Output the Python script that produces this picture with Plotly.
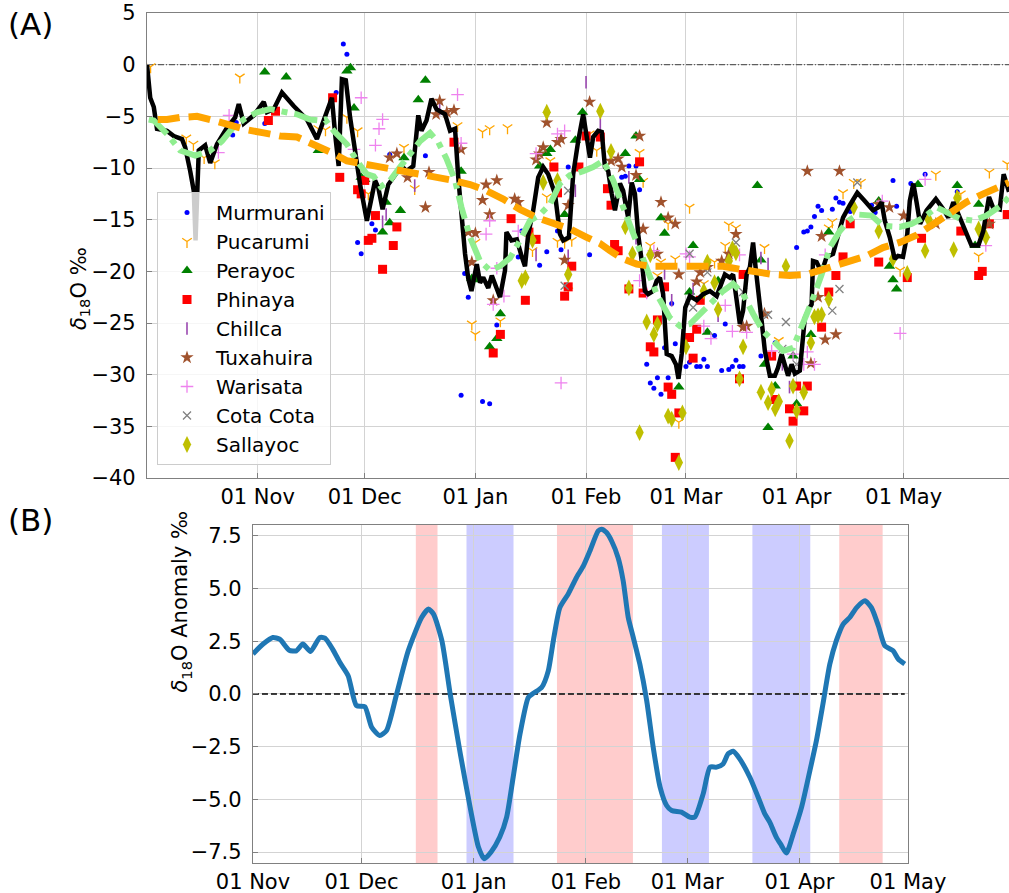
import pandas as pd
import plotly.graph_objects as go

# ---------------------------------------------------------------------------
# Panel A: daily d18O at the stations, smoothed composite and seasonal cycle
# days are counted from the start of the season (01 Oct 2018)
# ---------------------------------------------------------------------------
SEASON_START = pd.Timestamp("2018-10-01")
SEASON_END_DAY = 241.5

composite_day = [0, 0.9, 1.9, 2.8, 5.6, 7.5, 9.8, 10.7, 12.1, 13.1, 13.6, 14.2, 14.5, 16.3, 17.7,
                 19.6, 22.4, 24.7, 25.7, 27.1, 29.9, 32.7, 33.6, 35.5, 37.8, 41.1, 44.8, 47.6,
                 49.5, 51.8, 52.7, 53.7, 54.6, 55.7, 56.9, 58.4, 59.7, 61.6, 62.5, 63.9, 64.8,
                 66, 67.6, 69.5, 71.3, 72.7, 74.6, 76, 76.9, 78.3, 79.7, 81.1, 83.5, 84.9, 86.3,
                 87.2, 88.1, 89.1, 90, 90.9, 92.4, 93.3, 94.2, 95.6, 96.6, 98.9, 100.3, 100.7,
                 102.1, 103.6, 105, 105.9, 106.8, 108.2, 109.6, 111, 112.4, 114.3, 115.7, 116.6,
                 118.2, 119.4, 120.8, 122.2, 124.1, 125, 126.4, 127.4, 128.3, 129.2, 130.2,
                 131.1, 132.5, 133.4, 134.8, 135.8, 136.7, 137.6, 138.6, 139.5, 140.4, 141.8,
                 142.8, 143.7, 144.6, 145.6, 147, 148.2, 148.9, 149.8, 150.8, 152.1, 154, 155.8,
                 157.7, 159.6, 161, 161.9, 163.3, 164.2, 165.2, 166.1, 167, 168, 168.9, 169.8,
                 170.5, 171.2, 172.2, 173.1, 174.5, 175.9, 176.8, 177.8, 178.7, 179.6, 180.6,
                 181.5, 182.9, 184.3, 185.5, 186.2, 186.6, 187.6, 189, 190.4, 192.2, 193.6, 195,
                 196.9, 199, 201.1, 203.4, 204.9, 205.8, 206.7, 208.1, 209.5, 210.4, 211.8, 213,
                 213.7, 214.7, 215.6, 216.6, 218.4, 221, 223.1, 224.5, 225.9, 227.7, 229.6, 231,
                 232.9, 234.3, 235.9, 237, 238.9, 240, 241.5]
composite_d18o = [0, -3.2, -4.1, -6.2, -6.4, -6.9, -7.2, -8.0, -10.3, -12.2, -17.0, -12.5, -8.3,
                  -7.8, -9.5, -7.7, -6.1, -5.1, -3.8, -5.7, -4.9, -3.6, -4.6, -4.3, -2.7, -4.0,
                  -5.3, -7.2, -5.4, -3.2, -6.7, -9.8, -1.4, -1.5, -5.1, -9.0, -11.6, -15.1,
                  -13.5, -11.2, -11.9, -14.0, -11.6, -10.7, -9.8, -10.3, -9.8, -4.9, -6.4, -5.4,
                  -3.3, -4.3, -4.8, -6.4, -6.2, -10.9, -14.8, -18.3, -20.7, -21.9, -19.3, -21.1,
                  -20.6, -21.6, -20.4, -22.5, -19.9, -16.2, -17.0, -16.9, -18.6, -19.5, -16.4,
                  -14.1, -10.9, -9.9, -10.6, -12.5, -16.4, -17.0, -16.7, -10.6, -7.4, -4.8,
                  -9.0, -7.0, -6.4, -6.5, -9.9, -10.3, -12.5, -14.1, -11.5, -12.2, -14.8, -11.4,
                  -12.5, -16.4, -19.0, -21.9, -22.2, -21.9, -20.9, -20.6, -22.2, -28.0, -28.2,
                  -29.0, -30.4, -28.0, -23.5, -22.4, -22.8, -22.2, -21.9, -22.4, -21.1, -20.3,
                  -20.6, -20.3, -22.8, -25.1, -23.8, -20.3, -19.6, -17.2, -19.6, -22.2, -24.8,
                  -27.7, -30.1, -30.1, -29.3, -28.0, -29.0, -30.1, -29.0, -29.9, -29.6, -24.5,
                  -23.6, -23.2, -19.0, -19.1, -20.1, -18.6, -18.3, -16.7, -14.8, -13.6, -12.4,
                  -13.2, -14.1, -13.8, -13.3, -15.1, -16.7, -18.8, -18.5, -18.6, -16.4, -13.2,
                  -11.5, -13.3, -15.4, -14.1, -13.0, -14.0, -14.8, -13.3, -14.8, -16.4, -17.5,
                  -17.5, -16.1, -12.8, -13.8, -14.0, -10.6, -12.3]

smooth_day = [0.5, 1.9, 5.6, 9.3, 13.5, 17.7, 21, 23.8, 27.1, 30.8, 34.5, 38.3, 42, 45.7, 48.5,
              49.9, 52.3, 56, 58.8, 61.6, 63.5, 65.5, 68.1, 70.9, 73.7, 76.5, 79.3, 81.6, 83.9,
              86.3, 88.1, 90.5, 93.3, 96.1, 98.9, 101.7, 104.5, 107.3, 110.1, 112.9, 115.7,
              118.5, 122.2, 125, 127.8, 130.6, 133.4, 136.2, 140, 142.8, 146.5, 149.3, 152.1,
              154.9, 158.6, 161.4, 164.2, 167, 169.8, 172.6, 175.4, 178.2, 181, 183.8, 186.4,
              189, 191.3, 194.1, 196.5, 199.2, 203, 206.2, 210.9, 214.2, 217.5, 221.2, 224,
              227.7, 231.5, 235.2, 239.4, 241.5]
smooth_d18o = [-5.3, -5.4, -6.7, -8.3, -8.8, -8.3, -7.4, -6.2, -5.3, -4.6, -4.3, -4.5, -4.8,
               -5.3, -5.4, -5.3, -6.4, -7.7, -9.3, -10.6, -10.8, -11.8, -11.2, -9.9, -8.6,
               -7.4, -6.6, -7.5, -9.1, -11.2, -13.8, -16.7, -19.0, -19.9, -19.5, -18.7, -17.0,
               -15.1, -14.5, -13.5, -11.5, -10.7, -10.3, -9.9, -9.3, -11.2, -13.8, -16.4,
               -19.6, -22.2, -24.5, -25.3, -25.1, -24.1, -22.8, -21.9, -21.2, -22.2, -24.1,
               -25.8, -26.7, -27.7, -27.4, -25.1, -22.8, -20.3, -17.7, -16.1, -15.1, -14.5,
               -14.6, -15.6, -15.7, -15.4, -14.8, -13.8, -14.3, -14.9, -15.1, -14.6, -13.6,
               -12.8]

seasonal_day = [3, 5.6, 9.3, 14, 18.7, 23.3, 28, 32.7, 37.3, 42, 44.8, 48.5, 52.3, 56, 60.7,
                64.4, 67.1, 71.8, 76.5, 81.1, 85.8, 90.5, 95.2, 99.8, 104.5, 109.2, 113.8,
                118.5, 123.2, 126.9, 129.7, 133.4, 137.2, 140.9, 144.6, 148.4, 152.1, 156.8,
                161.4, 166.1, 170.8, 175.4, 180.1, 184.8, 188.5, 192.2, 196.9, 201.6, 206.2,
                210.9, 215.6, 220.3, 225, 229.6, 234.3, 239, 241.5]
seasonal_d18o = [-5.3, -5.3, -5.1, -5.0, -5.4, -5.9, -6.3, -6.6, -6.9, -7.0, -7.4, -8.0, -8.6,
                 -9.3, -9.6, -9.8, -9.9, -10.2, -10.5, -10.9, -11.2, -11.6, -12.2, -13.0,
                 -14.0, -14.8, -15.3, -15.9, -16.7, -17.3, -18.0, -18.8, -19.3, -19.5, -19.5,
                 -19.5, -19.4, -19.4, -19.5, -19.8, -20.1, -20.3, -20.4, -20.3, -19.9, -19.5,
                 -19.0, -18.5, -17.7, -17.2, -16.5, -15.4, -14.3, -13.3, -12.5, -11.7, -11.4]

# station samples (day of season, d18O permil)
murmurani_day = [24, 25, 33, 35, 53, 55, 56, 63, 64, 59, 60, 68, 70, 78, 88, 94, 96, 89, 90, 98,
                 105, 107, 110, 112, 104, 115, 116, 118, 124, 133, 134, 135, 137, 138, 140, 141,
                 142, 143, 144, 146, 145, 147, 148, 151, 152, 154, 155, 156, 157, 159, 161, 163,
                 164, 166, 167, 165, 162, 172, 176, 182, 184, 185, 186, 187, 188, 189, 192, 193,
                 194, 195, 197, 198, 203, 204, 209, 210, 214, 218, 227]
murmurani_val = [-6.8, -5.6, -5.7, -4.4, -2.7, 2.0, 1.0, -15.4, -16.0, -17.2, -18.3, -8.7, -8.6,
                 -8.8, -32.0, -32.6, -32.8, -20.2, -22.5, -25.2, -16.1, -15.4, -19.4, -18.1,
                 -18.6, -16.1, -17.9, -9.9, -18.4, -10.9, -10.8, -9.8, -9.8, -12.1, -29.0,
                 -30.8, -31.3, -30.3, -31.9, -30.3, -27.4, -23.1, -27.0, -29.2, -28.8, -29.2,
                 -29.2, -28.5, -29.2, -26.2, -29.6, -29.5, -29.2, -29.2, -29.2, -28.6, -25.1,
                 -28.2, -26.9, -17.7, -16.2, -16.1, -15.7, -14.7, -13.7, -14.1, -14.0, -12.9,
                 -13.3, -13.4, -14.2, -13.8, -13.6, -14.3, -11.2, -13.7, -11.5, -10.6, -12.3]

pucarumi_day = [1, 26, 11, 13, 16, 19, 48, 50, 56, 59, 62, 72, 75, 87, 94, 96, 101, 92, 91, 92,
                99, 108, 113, 112, 115, 117, 119, 118, 124, 126, 138, 139, 146, 152, 141, 144,
                143, 148, 156, 159, 162, 163, 165, 173, 177, 149, 195, 198, 200, 192, 191, 221,
                236, 241, 211, 233, 228]
pucarumi_val = [-0.2, -1.2, -7.1, -7.7, -9.0, -9.5, -6.2, -6.3, -5.1, -6.4, -12.5, -8.0, -12.0,
                -5.9, -6.5, -6.2, -6.1, -17.2, -25.1, -26.1, -24.8, -18.0, -9.3, -12.8, -17.1,
                -17.2, -17.0, -21.9, -6.7, -8.3, -8.5, -11.3, -15.4, -13.8, -17.5, -19.1, -20.4,
                -18.8, -21.2, -19.1, -17.5, -15.5, -15.8, -17.7, -26.7, -34.6, -12.4, -11.4,
                -11.4, -15.2, -15.8, -10.6, -10.4, -9.6, -19.9, -18.5, -12.5]

perayoc_day = [33, 39, 48, 56, 57, 58, 60, 61, 67, 68, 66, 71, 72, 76, 78, 88, 91, 92, 99, 98,
               96, 110, 112, 113, 117, 120, 122, 134, 137, 138, 144, 145, 152, 153, 157, 160,
               171, 172, 173, 176, 174, 181, 182, 186, 149, 191, 205, 208, 209, 210, 216, 227,
               233, 232]
perayoc_val = [-0.7, -1.2, -8.3, -0.6, -0.3, -4.2, -10.9, -11.1, -13.3, -15.3, -16.2, -14.1,
               -9.0, -3.4, -1.5, -10.3, -20.7, -20.8, -24.1, -26.5, -27.3, -9.8, -8.6, -8.2,
               -14.5, -7.3, -4.6, -8.6, -6.9, -11.1, -14.8, -16.3, -22.0, -17.5, -25.9, -20.9,
               -11.7, -18.9, -29.0, -31.1, -35.1, -28.2, -32.8, -26.1, -31.2, -16.2, -13.2,
               -19.5, -20.8, -21.7, -11.6, -11.7, -13.5, -17.5]

phinaya_day = [34, 36, 52, 54, 59, 61, 60, 64, 63, 62, 70, 69, 66, 86, 99, 97, 106, 102, 114,
               121, 109, 107, 115, 119, 118, 117, 123, 127, 138, 129, 130, 131, 132, 135, 139,
               145, 143, 141, 142, 146, 147, 149, 148, 152, 153, 154, 155, 166, 167, 175, 176,
               180, 181, 182, 184, 185, 195, 191, 189, 193, 197, 205, 213, 217, 228, 233, 234,
               236, 241]
phinaya_val = [-5.4, -4.5, -3.2, -10.9, -12.1, -11.2, -12.5, -14.6, -16.8, -17.0, -15.7, -17.5,
               -19.8, -7.5, -26.1, -27.9, -22.8, -14.9, -9.9, -9.9, -16.9, -16.2, -12.4, -19.5,
               -21.5, -22.4, -6.9, -7.0, -9.4, -12.0, -13.6, -17.4, -18.0, -21.7, -22.1, -21.5,
               -24.7, -27.3, -27.8, -31.2, -31.9, -33.7, -38.0, -26.4, -28.4, -25.6, -22.8,
               -30.4, -20.3, -28.2, -32.4, -33.3, -34.5, -31.1, -33.5, -31.1, -18.6, -22.0,
               -25.4, -20.4, -15.4, -19.1, -20.6, -16.8, -16.1, -20.4, -20.0, -15.4, -14.5]

chillca_day = [75, 67, 66, 82, 109, 118, 120, 123, 127, 135, 137, 145, 147, 153, 156, 160, 172,
               174, 178, 180, 227]
chillca_val = [-11.7, -14.5, -15.2, -4.3, -18.4, -18.5, -12.2, -1.7, -5.7, -10.9, -16.8, -20.2,
               -22.8, -21.7, -21.7, -24.3, -18.7, -19.3, -29.0, -31.2, -13.2]

tuxahuira_day = [82, 86, 84, 81, 88, 78, 79, 68, 70, 73, 95, 98, 94, 96, 90, 92, 91, 97, 103,
                 104, 112, 115, 116, 111, 110, 109, 124, 130, 138, 133, 132, 137, 139, 144, 146,
                 148, 143, 117, 118, 149, 155, 154, 157, 161, 163, 165, 167, 168, 173, 185, 194,
                 189, 190, 193, 186, 188, 205, 208, 212, 221, 236]
tuxahuira_val = [-3.5, -4.4, -4.6, -4.8, -8.2, -13.8, -10.4, -9.0, -8.6, -10.9, -11.6, -11.2,
                 -13.1, -14.5, -16.2, -16.3, -19.1, -22.8, -13.0, -13.3, -5.6, -7.5, -7.2, -8.0,
                 -8.6, -9.2, -3.6, -9.3, -6.9, -9.9, -9.1, -10.7, -15.9, -13.3, -14.8, -15.4,
                 -18.3, -18.9, -13.6, -20.3, -20.1, -21.0, -19.6, -19.0, -18.3, -16.4, -25.4,
                 -25.3, -24.1, -10.3, -10.3, -16.6, -26.6, -26.1, -28.9, -22.5, -13.5, -13.8,
                 -14.6, -15.4, -15.4]

warisata_day = [20, 23, 60, 58, 64, 66, 65, 87, 88, 96, 95, 98, 100, 97, 104, 109, 115, 117,
                116, 138, 140, 142, 151, 152, 156, 158, 162, 164, 166, 168, 175, 181, 185, 184,
                187, 190, 206, 218, 211, 235]
warisata_val = [-8.5, -4.9, -3.2, -8.2, -7.8, -5.3, -6.2, -2.9, -7.6, -15.1, -16.4, -19.7,
                -22.4, -23.2, -16.1, -8.6, -6.7, -6.4, -30.8, -20.9, -22.1, -18.0, -18.3, -18.6,
                -25.3, -26.5, -23.3, -25.8, -18.4, -25.9, -27.7, -28.0, -27.8, -29.0, -29.0,
                -18.4, -13.2, -11.1, -26.0, -17.5]

cotacota_day = [117, 118, 152, 157, 153, 165, 167, 174, 179, 178, 182, 194, 192, 199]
cotacota_val = [-21.4, -12.2, -18.3, -20.1, -23.5, -17.2, -22.0, -24.2, -24.9, -27.5, -29.0,
                -21.7, -23.8, -11.4]

sallayoc_day = [112, 111, 115, 127, 130, 134, 108, 106, 105, 118, 136, 135, 140, 143, 142, 138,
                146, 147, 149, 150, 151, 141, 156, 157, 159, 160, 163, 164, 165, 167, 166, 179,
                172, 174, 175, 176, 177, 180, 181, 182, 184, 186, 187, 191, 189, 188, 198, 205,
                209, 213, 218, 219, 226, 227, 233, 235]
sallayoc_val = [-4.6, -11.4, -11.2, -4.5, -8.4, -15.7, -17.0, -20.6, -20.9, -20.3, -18.3, -21.6,
                -24.9, -25.1, -26.1, -35.6, -34.0, -34.3, -38.5, -33.7, -27.3, -18.4, -21.9,
                -19.1, -21.1, -23.7, -19.0, -17.8, -18.2, -27.3, -30.4, -19.5, -31.7, -32.7,
                -31.4, -33.3, -32.6, -36.4, -31.1, -33.5, -31.7, -26.9, -24.4, -22.7, -24.2,
                -24.3, -13.8, -16.1, -18.8, -20.2, -18.0, -15.0, -17.9, -12.9, -15.9, -16.7]

# ---------------------------------------------------------------------------
# Panel B: composite anomaly (days counted from 01 Nov 2018)
# ---------------------------------------------------------------------------
ANOMALY_START = pd.Timestamp("2018-11-01")
anomaly_day = [0, 2.8, 5.5, 7.4, 10, 12, 13.8, 15.9, 18.5, 19.9, 22, 24, 26.3, 28.6, 30.9, 32.8,
               35, 36.9, 39.7, 42.9, 46.6, 48.5, 49.9, 52.2, 54.5, 57.3, 60, 62.3, 63.9, 65.8,
               68.2, 70.1, 71.9, 73.8, 76.1, 77.5, 79.8, 81.6, 83, 84.8, 87.1, 89.4, 91.3, 93.1,
               95.4, 96.3, 97.7, 99.1, 100.9, 102.3, 103.7, 105.1, 106.9, 108.8, 110.6, 112.5,
               114.3, 115.7, 118.4, 120.7, 122.1, 124.4, 126.3, 128.1, 129.9, 131.3, 132.7,
               134.5, 137.3, 139.6, 141.4, 142.8, 144.6, 146, 147.4, 149.3, 151.6, 153.9, 155.7,
               157.5, 159.4, 161.2, 163.1, 164.9, 166.8, 169.1, 170.9, 172.8, 174.6, 176.9,
               178.3, 180.1]
anomaly_val = [1.9, 2.37, 2.68, 2.6, 2.08, 2.05, 2.37, 2.02, 2.68, 2.65, 2.13, 1.5, 0.87, -0.55,
               -0.6, -1.58, -1.97, -1.74, 0.0, 2.05, 3.63, 4.03, 3.79, 2.53, 0.0, -2.84, -5.37,
               -7.26, -7.82, -7.5, -6.79, -5.84, -3.95, -1.89, -0.16, 0.03, 0.32, 1.1, 2.53, 4.1,
               4.74, 5.53, 6.08, 6.79, 7.74, 7.82, 7.66, 7.26, 6.47, 5.37, 3.63, 2.68, 1.42,
               -0.32, -2.53, -4.42, -5.29, -5.53, -5.61, -5.84, -5.84, -4.74, -3.47, -3.47,
               -3.32, -2.84, -2.72, -3.08, -3.95, -4.9, -5.68, -6.08, -6.79, -7.18, -7.55, -6.63,
               -5.37, -3.63, -2.21, -0.47, 1.42, 2.53, 3.32, 3.63, 4.1, 4.42, 4.1, 3.24, 2.29,
               2.05, 1.66, 1.42]

warm_start = ["2018-12-16", "2019-01-24", "2019-04-12"]
warm_end = ["2018-12-22", "2019-02-14", "2019-04-24"]
cold_start = ["2018-12-30", "2019-02-22", "2019-03-19"]
cold_end = ["2019-01-12", "2019-03-07", "2019-04-04"]

month_ticks = ["2018-11-01", "2018-12-01", "2019-01-01", "2019-02-01",
               "2019-03-01", "2019-04-01", "2019-05-01"]


def season_dates(days):
    return SEASON_START + pd.to_timedelta(days, unit="D")


def anomaly_dates(days):
    return ANOMALY_START + pd.to_timedelta(days, unit="D")


FONT = "DejaVu Sans"
GRID = "#d3d3d3"
FRAME = "#808080"

stations = [
    ("Murmurani", murmurani_day, murmurani_val, dict(symbol="circle", size=5, color="#0000ff")),
    ("Pucarumi", pucarumi_day, pucarumi_val,
     dict(symbol="y-down-open", size=8, color="#ffa500", line=dict(color="#ffa500", width=1.3))),
    ("Perayoc", perayoc_day, perayoc_val, dict(symbol="triangle-up", size=10, color="#008000")),
    ("Phinaya", phinaya_day, phinaya_val, dict(symbol="square", size=9, color="#ff0000")),
    ("Chillca", chillca_day, chillca_val,
     dict(symbol="line-ns-open", size=9, color="#9a48b0", line=dict(color="#9a48b0", width=1.6))),
    ("Tuxahuira", tuxahuira_day, tuxahuira_val, dict(symbol="star", size=10, color="#a0522d")),
    ("Warisata", warisata_day, warisata_val,
     dict(symbol="cross-thin-open", size=9, color="#ee82ee", line=dict(color="#ee82ee", width=1.3))),
    ("Cota Cota", cotacota_day, cotacota_val,
     dict(symbol="x-thin-open", size=8, color="#808080", line=dict(color="#808080", width=1.3))),
    ("Sallayoc", sallayoc_day, sallayoc_val, dict(symbol="diamond-tall", size=12, color="#bfbf00")),
]

fig = go.Figure()

# zero reference in panel A
fig.add_trace(go.Scatter(
    x=season_dates([0, SEASON_END_DAY]), y=[0, 0], mode="lines",
    line=dict(color="#404040", width=1, dash="6px,2px,1px,2px"),
    showlegend=False, hoverinfo="skip", xaxis="x", yaxis="y"))

for name, days, vals, marker in stations:
    fig.add_trace(go.Scatter(
        x=season_dates(days), y=vals, mode="markers", name=name,
        marker=marker, xaxis="x", yaxis="y"))

fig.add_trace(go.Scatter(
    x=season_dates(composite_day), y=composite_d18o, mode="lines",
    line=dict(color="black", width=4.5), showlegend=False, xaxis="x", yaxis="y"))
fig.add_trace(go.Scatter(
    x=season_dates(smooth_day), y=smooth_d18o, mode="lines",
    line=dict(color="#90ee90", width=6, dash="24px,7px,6px,7px"),
    showlegend=False, xaxis="x", yaxis="y"))
fig.add_trace(go.Scatter(
    x=season_dates(seasonal_day), y=seasonal_d18o, mode="lines",
    line=dict(color="#ffa500", width=7, dash="22px,9px"),
    showlegend=False, xaxis="x", yaxis="y"))

# panel B
anom_x = anomaly_dates(anomaly_day)
fig.add_trace(go.Scatter(
    x=[anom_x[0], anom_x[-1]], y=[0, 0], mode="lines",
    line=dict(color="black", width=1.5, dash="6px,3px"),
    showlegend=False, xaxis="x2", yaxis="y2"))
fig.add_trace(go.Scatter(
    x=anom_x, y=anomaly_val, mode="lines", line_shape="spline",
    line=dict(color="#1f77b4", width=5, smoothing=0.6),
    showlegend=False, xaxis="x2", yaxis="y2"))

shapes = []
for s, e in zip(warm_start, warm_end):
    shapes.append(dict(type="rect", xref="x2", yref="y2 domain", x0=s, x1=e, y0=0, y1=1,
                       fillcolor="rgba(255,0,0,0.2)", line=dict(width=0), layer="below"))
for s, e in zip(cold_start, cold_end):
    shapes.append(dict(type="rect", xref="x2", yref="y2 domain", x0=s, x1=e, y0=0, y1=1,
                       fillcolor="rgba(0,0,255,0.2)", line=dict(width=0), layer="below"))

axis_common = dict(
    showgrid=True, gridcolor=GRID, gridwidth=1, zeroline=False, automargin=False,
    ticks="inside", ticklen=5, tickcolor=FRAME, tickwidth=1,
    showline=True, linecolor=FRAME, linewidth=1.2,
    tickfont=dict(family=FONT, size=21, color="black"),
)

fig.update_layout(
    width=1009, height=893,
    margin=dict(l=0, r=0, t=0, b=0, pad=0, autoexpand=False),
    paper_bgcolor="white", plot_bgcolor="white",
    font=dict(family=FONT, size=21, color="black"),
    xaxis=dict(axis_common, domain=[0.1457, 1.0], anchor="y", type="date",
               range=[season_dates([0])[0], season_dates([SEASON_END_DAY])[0]],
               tickvals=month_ticks, tickformat="%d %b", mirror=True),
    yaxis=dict(axis_common, domain=[0.4647, 0.9854], anchor="x", range=[-40, 5],
               tickvals=list(range(-40, 6, 5)), ticklabelstandoff=6),
    xaxis2=dict(axis_common, domain=[0.2507, 0.8999], anchor="y2", type="date",
                range=["2018-11-01", "2019-05-01"], tickvals=month_ticks,
                tickformat="%d %b", mirror=True),
    yaxis2=dict(axis_common, domain=[0.0336, 0.4121], anchor="x2", range=[-8.02, 8.02],
                tickvals=[-7.5, -5.0, -2.5, 0.0, 2.5, 5.0, 7.5], tickformat=".1f",
                mirror=True, ticklabelstandoff=6),
    shapes=shapes,
    legend=dict(x=0.1556, y=0.785, xanchor="left", yanchor="top",
                bgcolor="rgba(255,255,255,0.8)", bordercolor="#cccccc", borderwidth=1,
                font=dict(family=FONT, size=20, color="black"),
                tracegroupgap=0, itemwidth=48),
    annotations=[
        dict(text="(A)", x=0.006, y=0.995, xref="paper", yref="paper",
             xanchor="left", yanchor="top", showarrow=False,
             font=dict(family=FONT, size=31, color="black")),
        dict(text="(B)", x=0.006, y=0.44, xref="paper", yref="paper",
             xanchor="left", yanchor="top", showarrow=False,
             font=dict(family=FONT, size=31, color="black")),
        dict(text="<i>δ</i><sub>18</sub>O ‰", x=0.064, y=0.7256, xref="paper", yref="paper",
             textangle=-90, showarrow=False, font=dict(family=FONT, size=21, color="black")),
        dict(text="<i>δ</i><sub>18</sub>O Anomaly ‰", x=0.165, y=0.2228, xref="paper",
             yref="paper", textangle=-90, showarrow=False,
             font=dict(family=FONT, size=21, color="black")),
    ],
)

fig.write_html("out.html")
